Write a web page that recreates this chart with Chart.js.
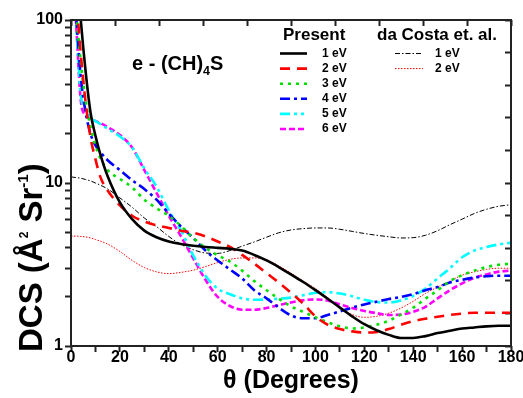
<!DOCTYPE html>
<html>
<head>
<meta charset="utf-8">
<script src="https://cdn.jsdelivr.net/npm/chart.js@4.4.1/dist/chart.umd.min.js"></script>
<style>
  html, body { margin: 0; padding: 0; background: #fff; }
  #wrap { width: 523px; height: 398px; }
</style>
</head>
<body>
<div id="wrap"><canvas id="dcsChart" width="523" height="398"></canvas></div>
<script>
const FONT = 'Arial, "Liberation Sans", Helvetica, sans-serif';

// scattering angle (degrees)
const theta = [0, 2, 4, 6, 8, 10, 12, 15, 20, 25, 30, 35, 40, 45, 50, 55, 60, 65, 70, 75, 80,
  85, 90, 95, 100, 105, 110, 115, 120, 125, 130, 135, 140, 145, 150, 155, 160, 165, 170, 175, 180];

// present results, DCS in A^2/sr
const dcs1eV = [600, 250, 100, 48, 27, 19.5, 15, 11, 7.6, 6.0, 5.1, 4.65, 4.38, 4.22, 4.12, 4.05, 4.0, 3.95, 3.85, 3.62, 3.35,
  3.05, 2.75, 2.47, 2.2, 1.95, 1.72, 1.52, 1.36, 1.25, 1.17, 1.12, 1.12, 1.15, 1.2, 1.24, 1.28, 1.3, 1.32, 1.33, 1.33];
const dcs2eV = [400, 150, 62, 31, 19, 14, 10.9, 9.0, 7.3, 6.3, 5.8, 5.5, 5.3, 5.1, 4.95, 4.7, 4.38, 4.05, 3.62, 3.2, 2.8,
  2.45, 2.12, 1.82, 1.52, 1.35, 1.27, 1.23, 1.21, 1.22, 1.27, 1.35, 1.42, 1.47, 1.51, 1.55, 1.58, 1.6, 1.6, 1.6, 1.6];
const dcs3eV = [300, 120, 55, 32, 22, 17, 14.2, 12, 10.6, 9.4, 7.9, 7.0, 6.3, 5.45, 4.6, 4.0, 3.6, 3.3, 2.9, 2.5, 2.2,
  1.95, 1.75, 1.62, 1.5, 1.4, 1.32, 1.28, 1.3, 1.35, 1.43, 1.56, 1.72, 1.95, 2.2, 2.5, 2.72, 2.9, 3.05, 3.15, 3.2];
const dcs4eV = [250, 110, 45, 27, 20, 17, 15.5, 13.8, 12, 10.4, 9.2, 7.9, 6.5, 5.4, 4.6, 3.85, 3.35, 2.95, 2.6, 2.2, 1.96,
  1.72, 1.54, 1.48, 1.48, 1.55, 1.63, 1.72, 1.8, 1.87, 1.94, 2.0, 2.08, 2.2, 2.3, 2.45, 2.55, 2.63, 2.68, 2.7, 2.7];
const dcs5eV = [250, 100, 35, 28, 25, 24, 23, 21.5, 19.3, 16.5, 12.3, 9.5, 6.8, 5.1, 3.6, 2.7, 2.25, 2.08, 1.96, 1.92, 1.93,
  1.95, 1.98, 2.05, 2.12, 2.14, 2.1, 2.02, 1.92, 1.86, 1.85, 1.9, 2.03, 2.25, 2.6, 3.0, 3.5, 3.85, 4.05, 4.2, 4.3];
const dcs6eV = [250, 100, 32, 26, 24.5, 24, 23.3, 22, 19.7, 16.5, 12.0, 8.7, 6.3, 4.7, 3.45, 2.55, 2.0, 1.76, 1.67, 1.67, 1.71,
  1.78, 1.85, 1.91, 1.93, 1.9, 1.8, 1.71, 1.64, 1.59, 1.55, 1.56, 1.62, 1.74, 1.96, 2.2, 2.42, 2.62, 2.75, 2.86, 2.9];

// da Costa et al.
const daCosta1eV = [10.9, 10.8, 10.7, 10.5, 10.3, 10.0, 9.7, 9.2, 8.1, 7.1, 6.1, 5.4, 4.7, 4.2, 3.9, 3.72, 3.7, 3.85, 4.1, 4.35, 4.65,
  4.95, 5.15, 5.25, 5.3, 5.3, 5.2, 5.05, 4.9, 4.78, 4.68, 4.6, 4.62, 4.78, 5.1, 5.55, 6.0, 6.5, 6.9, 7.2, 7.35];
const daCosta2eV = [4.72, 4.72, 4.7, 4.67, 4.6, 4.5, 4.4, 4.22, 3.8, 3.35, 3.03, 2.85, 2.78, 2.83, 2.92, 3.07, 3.25, 3.4, 3.47, 3.47, 3.38,
  3.1, 2.8, 2.5, 2.25, 1.98, 1.73, 1.56, 1.5, 1.52, 1.59, 1.71, 1.88, 2.1, 2.3, 2.5, 2.72, 2.85, 2.95, 3.0, 3.0];

const presentLabels = ['1 eV', '2 eV', '3 eV', '4 eV', '5 eV', '6 eV'];
const daCostaLabels = ['1 eV', '2 eV'];
const yTickValues = [1, 2, 3, 4, 5, 6, 7, 8, 9, 10, 20, 30, 40, 50, 60, 70, 80, 90, 100];
const yTickLabels = [1, 10, 100];
// mirrored (unlabelled) ticks on the right: every 0.2 decade
const yRightTicks = [1, 1.585, 2.512, 3.981, 6.31, 10, 15.85, 25.12, 39.81, 63.1, 100];

const pts = (vals) => theta.map((t, i) => ({ x: t, y: vals[i] }));

const present = [
  { label: '1 eV', data: pts(dcs1eV), borderColor: '#000000', borderWidth: 2.6, borderDash: [] },
  { label: '2 eV', data: pts(dcs2eV), borderColor: '#ff0000', borderWidth: 2.6, borderDash: [10, 7] },
  { label: '3 eV', data: pts(dcs3eV), borderColor: '#00e000', borderWidth: 2.6, borderDash: [3, 5] },
  { label: '4 eV', data: pts(dcs4eV), borderColor: '#0000ff', borderWidth: 2.6, borderDash: [10, 4, 3, 4] },
  { label: '5 eV', data: pts(dcs5eV), borderColor: '#00ffff', borderWidth: 2.6, borderDash: [10, 4, 3, 4, 3, 4] },
  { label: '6 eV', data: pts(dcs6eV), borderColor: '#ff00ff', borderWidth: 2.6, borderDash: [6, 3] }
];
const others = [
  { label: 'da Costa 1 eV', data: pts(daCosta1eV), borderColor: '#000000', borderWidth: 1, borderDash: [5, 2, 1.5, 2] },
  { label: 'da Costa 2 eV', data: pts(daCosta2eV), borderColor: '#ff0000', borderWidth: 1, borderDash: [1.5, 1.5] }
];

// box frame round the plot area
const frame = {
  id: 'frame',
  afterDraw(chart) {
    const { ctx, chartArea: a } = chart;
    const L = Math.round(a.left), R = Math.round(a.right), T = Math.round(a.top), B = Math.round(a.bottom);
    ctx.save();
    ctx.fillStyle = '#222';
    ctx.fillRect(L - 1, T - 1, 2, B - T + 2);
    ctx.fillRect(R - 1, T - 1, 2, B - T + 2);
    ctx.fillRect(L - 1, T - 1, R - L + 2, 2);
    ctx.fillRect(L - 1, B - 1, R - L + 2, 2);
    ctx.restore();
  }
};

// legend, molecule label and y title with small superscripts
const notes = {
  id: 'notes',
  afterDraw(chart) {
    const { ctx } = chart;
    const ds = chart.data.datasets;
    ctx.save();
    ctx.fillStyle = '#000';
    ctx.textBaseline = 'middle';
    ctx.textAlign = 'left';
    ctx.font = 'bold 17px ' + FONT;
    ctx.fillText('Present', 283, 35);
    ctx.fillText('da Costa et. al.', 377, 35);

    const sample = (d, x0, x1, yy) => {
      ctx.beginPath();
      ctx.strokeStyle = d.borderColor;
      ctx.lineWidth = d.borderWidth;
      ctx.setLineDash(d.borderDash);
      ctx.moveTo(x0, yy); ctx.lineTo(x1, yy);
      ctx.stroke();
    };
    ctx.font = 'bold 12px ' + FONT;
    presentLabels.forEach((lab, i) => {
      const yy = 53.5 + 15.1 * i;
      sample(ds[i], 280, 307, yy);
      ctx.fillText(lab, 322, yy);
    });
    daCostaLabels.forEach((lab, i) => {
      const yy = 53.5 + 15.1 * i;
      sample(ds[present.length + i], 395, 423, yy);
      ctx.fillText(lab, 435, yy);
    });

    ctx.setLineDash([]);
    ctx.textBaseline = 'alphabetic';
    const run = (parts, x0, y0) => {
      let tx = x0;
      parts.forEach(([txt, size, dy]) => {
        ctx.font = 'bold ' + size + 'px ' + FONT;
        ctx.fillText(txt, tx, y0 + dy);
        tx += ctx.measureText(txt).width;
      });
    };
    run([['e - (CH)', 20, 0], ['4', 12.5, 5], ['S', 20, 0]], 132, 70);

    ctx.translate(42, 352);
    ctx.rotate(-Math.PI / 2);
    run([['DCS (Å', 33, 0], ['2', 12, -14], [' Sr', 33, 0], ['-1', 15, -14], [')', 33, 0]], 0, 0);
    ctx.restore();
  }
};

const tickGrid = {
  display: true, drawOnChartArea: false, drawTicks: true,
  tickLength: 6, tickWidth: 2, tickColor: '#222'
};
// inward ticks for the mirrored axes
const innerGrid = Object.assign({}, tickGrid, { tickLength: -6 });

new Chart(document.getElementById('dcsChart'), {
  type: 'line',
  data: {
    datasets: present.concat(others).map(d => Object.assign({ fill: false, pointRadius: 0 }, d))
  },
  options: {
    responsive: false,
    devicePixelRatio: 1,
    animation: false,
    layout: { padding: { top: 20, right: 12, left: 0, bottom: 0 } },
    elements: { line: { cubicInterpolationMode: 'monotone', capBezierPoints: false } },
    plugins: { legend: { display: false }, tooltip: { enabled: false } },
    scales: {
      x: {
        type: 'linear', min: 0, max: 180,
        grid: tickGrid, border: { display: false },
        ticks: {
          stepSize: 10, autoSkip: false, maxRotation: 0, padding: -4, color: '#000',
          font: { family: FONT, size: 16, weight: 'bold' },
          callback: (v) => (v % 20 === 0 ? v : '')
        },
        title: {
          display: true, text: 'θ (Degrees)', color: '#000',
          font: { family: FONT, size: 25, weight: 'bold' }, padding: { top: 0, bottom: 2 }
        },
        afterFit: (s) => { s.height = 52; s.paddingLeft = 0; s.paddingRight = 0; }
      },
      y: {
        type: 'logarithmic', min: 1, max: 100,
        grid: tickGrid, border: { display: false },
        afterBuildTicks: (s) => { s.ticks = yTickValues.map(v => ({ value: v })); },
        ticks: {
          autoSkip: false, padding: 2, color: '#000',
          font: { family: FONT, size: 16, weight: 'bold' },
          callback: (v) => (yTickLabels.includes(v) ? String(v) : '')
        },
        afterFit: (s) => { s.width = 71; s.paddingTop = 0; s.paddingBottom = 0; }
      },
      xTop: {
        type: 'linear', position: 'top', min: 0, max: 180,
        grid: innerGrid, border: { display: false },
        ticks: { stepSize: 18, autoSkip: false, display: false },
        afterFit: (s) => { s.height = 0; s.paddingLeft = 0; s.paddingRight = 0; }
      },
      yRight: {
        type: 'logarithmic', position: 'right', min: 1, max: 100,
        grid: innerGrid, border: { display: false },
        afterBuildTicks: (s) => { s.ticks = yRightTicks.map(v => ({ value: v })); },
        ticks: { autoSkip: false, display: false },
        afterFit: (s) => { s.width = 0; s.paddingTop = 0; s.paddingBottom = 0; }
      }
    }
  },
  plugins: [frame, notes]
});
</script>
</body>
</html>
